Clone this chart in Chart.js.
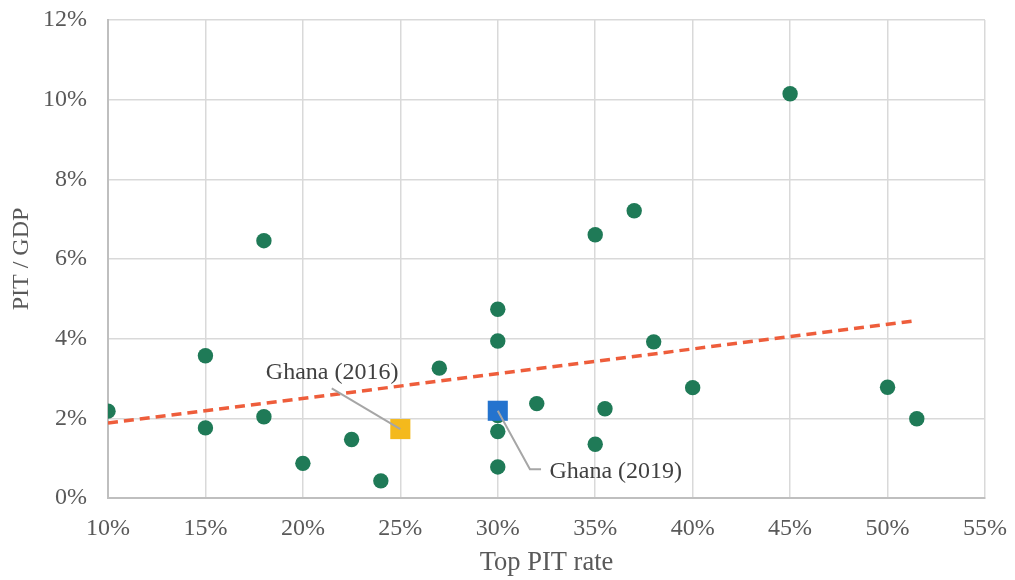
<!DOCTYPE html>
<html>
<head>
<meta charset="utf-8">
<script src="https://cdn.jsdelivr.net/npm/chart.js@4/dist/chart.umd.min.js"></script>
<style>
  html, body { margin: 0; padding: 0; background: #ffffff; }
  #wrap { width: 1015px; height: 580px; }
</style>
</head>
<body>
<div id="wrap"><canvas id="c" width="1015" height="580"></canvas></div>
<script>
// ---- Data ----
const countryTopRate = [10, 15, 15, 18, 18, 20, 22.5, 24, 27, 30, 30, 30, 30, 30, 32, 35, 35, 35.5, 37, 38, 40, 45, 50, 51.5];
const countryPitGdp  = [2.18, 3.57, 1.76, 6.46, 2.04, 0.87, 1.47, 0.43, 3.26, 4.74, 3.94, 2.07, 1.67, 0.78, 2.37, 6.61, 1.35, 2.24, 7.21, 3.92, 2.77, 10.15, 2.78, 1.99];

const ghanaLabels  = ['Ghana (2016)', 'Ghana (2019)'];
const ghanaTopRate = [25, 30];
const ghanaPitGdp  = [1.73, 2.19];
const ghanaColors  = ['#F4B91C', '#2473CE'];

const trendX = [10, 51.25];
const trendY = [1.88, 4.44];

const xTicks = [10, 15, 20, 25, 30, 35, 40, 45, 50, 55];
const yTicks = [0, 2, 4, 6, 8, 10, 12];

// annotation geometry in data units: leader path points and label anchor
const ghanaLeaderX = [[25, 21.48], [30, 31.65, 32.22]];
const ghanaLeaderY = [[1.73, 2.75], [2.19, 0.72, 0.72]];
const ghanaTextX   = [18.1, 32.65];
const ghanaTextY   = [3.15, 0.66];

const xTitle = 'Top PIT rate';
const yTitle = 'PIT / GDP';

// ---- Build ----
const FONT = "'Liberation Serif', 'Times New Roman', serif";
const TEXT = '#595959';

const greenPts = countryTopRate.map((x, i) => ({ x: x, y: countryPitGdp[i] }));
const ghanaPts = ghanaTopRate.map((x, i) => ({ x: x, y: ghanaPitGdp[i] }));
const trendPts = trendX.map((x, i) => ({ x: x, y: trendY[i] }));

const annotationPlugin = {
  id: 'ghanaLabels',
  afterDatasetsDraw(chart) {
    const ctx = chart.ctx;
    const xs = chart.scales.x, ys = chart.scales.y;
    ctx.save();
    ctx.strokeStyle = '#A6A6A6';
    ctx.lineWidth = 2;
    ghanaLeaderX.forEach((path, k) => {
      ctx.beginPath();
      path.forEach((xv, j) => {
        const px = xs.getPixelForValue(xv), py = ys.getPixelForValue(ghanaLeaderY[k][j]);
        if (j === 0) ctx.moveTo(px, py); else ctx.lineTo(px, py);
      });
      ctx.stroke();
    });
    ctx.fillStyle = '#404040';
    ctx.font = '24px ' + FONT;
    ctx.textAlign = 'left';
    ctx.textBaseline = 'middle';
    ghanaLabels.forEach((t, k) => {
      ctx.fillText(t, xs.getPixelForValue(ghanaTextX[k]), ys.getPixelForValue(ghanaTextY[k]));
    });
    ctx.restore();
  }
};

new Chart(document.getElementById('c'), {
  type: 'scatter',
  data: {
    datasets: [
      {
        label: 'Countries',
        data: greenPts,
        backgroundColor: '#1F7A57',
        borderColor: '#1F7A57',
        borderWidth: 0,
        pointRadius: 7.7,
        pointHoverRadius: 7.7,
        order: 3
      },
      {
        label: 'Trend',
        type: 'line',
        data: trendPts,
        borderColor: '#EE5D3B',
        borderWidth: 3.5,
        borderDash: [10, 6],
        pointRadius: 0,
        fill: false,
        tension: 0,
        order: 2
      },
      {
        label: 'Ghana',
        data: ghanaPts,
        pointStyle: 'rect',
        backgroundColor: ghanaColors,
        borderColor: ghanaColors,
        borderWidth: 0,
        pointRadius: 14.2,
        pointHoverRadius: 14.2,
        order: 1
      }
    ]
  },
  options: {
    responsive: false,
    animation: false,
    devicePixelRatio: 1,
    layout: { padding: { left: 0, right: 30, top: 20, bottom: 0 } },
    plugins: {
      legend: { display: false },
      tooltip: { enabled: false }
    },
    scales: {
      x: {
        type: 'linear',
        min: 10, max: 55,
        afterBuildTicks(scale) { scale.ticks = xTicks.map(v => ({ value: v })); },
        afterFit(scale) {
          scale.height = 82;
          scale.paddingLeft = 0; scale.paddingRight = 0;
        },
        grid: { color: '#D9D9D9', lineWidth: 1.5, drawTicks: false },
        border: { color: '#BFBFBF', width: 2 },
        ticks: {
          padding: 16,
          color: TEXT,
          font: { family: FONT, size: 24 },
          callback: v => v + '%'
        },
        title: {
          display: true,
          text: xTitle,
          color: TEXT,
          font: { family: FONT, size: 26.5 },
          padding: { top: 0, bottom: 1 }
        }
      },
      y: {
        type: 'linear',
        min: 0, max: 12,
        afterBuildTicks(scale) { scale.ticks = yTicks.map(v => ({ value: v })); },
        afterFit(scale) {
          scale.width = 108;
          scale.paddingTop = 0; scale.paddingBottom = 0;
        },
        grid: { color: '#D9D9D9', lineWidth: 1.5, drawTicks: false },
        border: { color: '#BFBFBF', width: 2 },
        ticks: {
          padding: 21,
          color: TEXT,
          font: { family: FONT, size: 24 },
          callback: v => v + '%'
        },
        title: {
          display: true,
          text: yTitle,
          color: TEXT,
          font: { family: FONT, size: 24 },
          padding: { top: 7.5, bottom: 0 }
        }
      }
    }
  },
  plugins: [annotationPlugin]
});
</script>
</body>
</html>
